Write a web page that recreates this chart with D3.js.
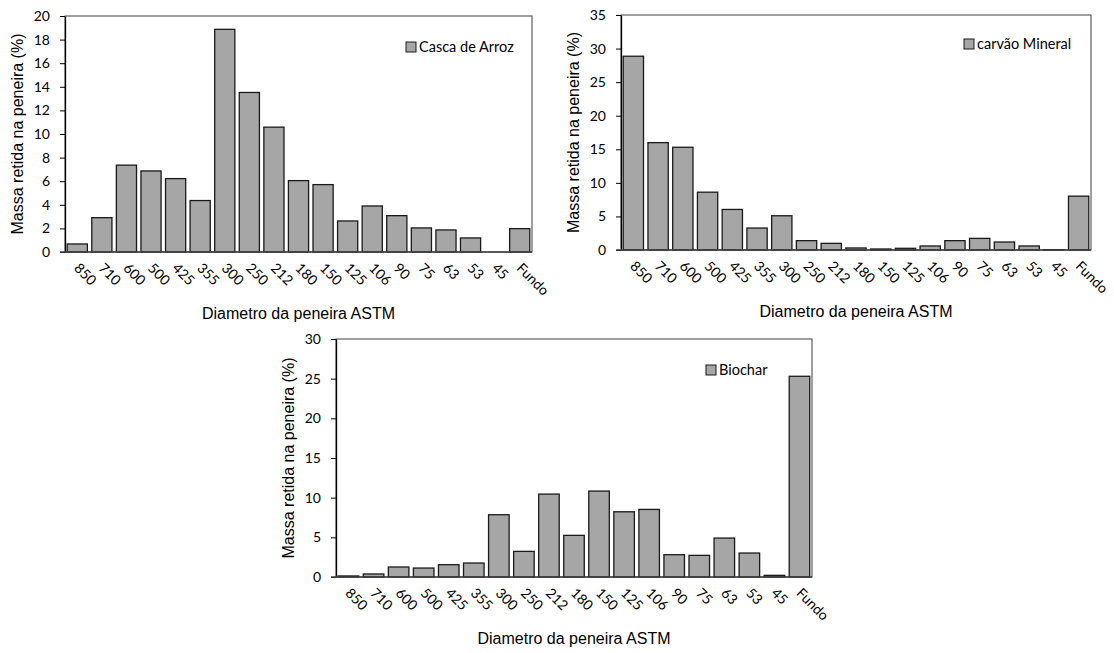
<!DOCTYPE html>
<html>
<head>
<meta charset="utf-8">
<script src="https://cdn.jsdelivr.net/npm/d3@7"></script>
<style>
  body { margin: 0; background: #fff; }
  .tick text { font-family: Lato, "Open Sans", sans-serif; font-size: 14px; fill: #000; }
  .title { font-family: "Liberation Sans", Arial, sans-serif; font-size: 16px; fill: #000; }
  .legend { font-family: Lato, "Open Sans", sans-serif; font-size: 14.5px; fill: #000; }
</style>
</head>
<body>
<svg id="chart" width="1114" height="653"></svg>
<script>
// sieve openings (ASTM), same order on all three charts
var sieves = ['850', '710', '600', '500', '425', '355', '300', '250', '212', '180',
  '150', '125', '106', '90', '75', '63', '53', '45', 'Fundo'];

// % mass kept on each sieve
var cascaArroz = [0.68, 2.91, 7.36, 6.87, 6.22, 4.36, 18.87, 13.52, 10.58, 6.05,
  5.71, 2.63, 3.9, 3.08, 2.04, 1.87, 1.19, 0, 1.98];
var carvaoMineral = [28.86, 15.99, 15.3, 8.61, 6.04, 3.27, 5.1, 1.39, 0.99, 0.3,
  0.15, 0.25, 0.6, 1.39, 1.73, 1.19, 0.6, 0.05, 8.02];
var biochar = [0.13, 0.38, 1.26, 1.13, 1.55, 1.76, 7.85, 3.23, 10.45, 5.25,
  10.83, 8.22, 8.52, 2.81, 2.73, 4.91, 3.02, 0.21, 25.3];

var ticksArroz = [0, 2, 4, 6, 8, 10, 12, 14, 16, 18, 20];
var ticksCarvao = [0, 5, 10, 15, 20, 25, 30, 35];
var ticksBiochar = [0, 5, 10, 15, 20, 25, 30];

var yTitle = 'Massa retida na peneira (%)';
var xTitle = 'Diametro da peneira ASTM';

// where each panel sits on the page
var panels = [
  {values: cascaArroz, ticks: ticksArroz, name: 'Casca de Arroz',
    x0: 65, x1: 532, y0: 16, y1: 252, legX: 406, legY: 47},
  {values: carvaoMineral, ticks: ticksCarvao, name: 'carvão Mineral',
    x0: 621, x1: 1091, y0: 15, y1: 250, legX: 964, legY: 44},
  {values: biochar, ticks: ticksBiochar, name: 'Biochar',
    x0: 336, x1: 812, y0: 339, y1: 577, legX: 706, legY: 370}
];

var svg = d3.select('#chart');

var drawPanel = function(p) {
  var g = svg.append('g');

  var x = d3.scaleBand()
    .domain(sieves)
    .range([p.x0, p.x1])
    .paddingInner(0.18)
    .paddingOuter(0.09);

  var y = d3.scaleLinear()
    .domain([0, p.ticks[p.ticks.length - 1]])
    .range([p.y1, p.y0]);

  // frame (top + right side)
  g.append('rect')
    .attr('x', p.x0)
    .attr('y', p.y0)
    .attr('width', p.x1 - p.x0)
    .attr('height', p.y1 - p.y0)
    .attr('fill', 'none')
    .attr('stroke', '#404040')
    .attr('stroke-width', 1);

  g.selectAll('.bar')
    .data(p.values)
    .enter().append('rect')
    .attr('class', 'bar')
    .attr('x', function(d, i) { return x(sieves[i]); })
    .attr('y', function(d) { return y(d); })
    .attr('width', x.bandwidth())
    .attr('height', function(d) { return y(0) - y(d); })
    .attr('fill', '#a6a6a6')
    .attr('stroke', '#1a1a1a')
    .attr('stroke-width', 1.3);

  var yAxis = g.append('g')
    .attr('transform', 'translate(' + p.x0 + ',0)')
    .call(d3.axisLeft(y).tickValues(p.ticks).tickSize(5).tickPadding(10).tickSizeOuter(0));
  yAxis.select('.domain').attr('stroke', '#000').attr('stroke-width', 1.3);
  yAxis.selectAll('.tick line').attr('stroke', '#000');

  var xAxis = g.append('g')
    .attr('transform', 'translate(0,' + p.y1 + ')')
    .call(d3.axisBottom(x).tickSize(0).tickSizeOuter(0));
  xAxis.select('.domain').attr('stroke', '#404040').attr('stroke-width', 1.5)
    .attr('d', 'M' + (p.x0 - 5) + ',0H' + p.x1);
  xAxis.selectAll('.tick text')
    .attr('text-anchor', 'start')
    .attr('y', 0)
    .attr('dy', 0)
    .attr('transform', 'translate(-4,17) rotate(45)');

  // axis titles
  g.append('text')
    .attr('class', 'title')
    .attr('text-anchor', 'middle')
    .attr('transform', 'translate(' + (p.x0 - 42) + ',' + ((p.y0 + p.y1) / 2) + ') rotate(-90)')
    .text(yTitle);
  g.append('text')
    .attr('class', 'title')
    .attr('text-anchor', 'middle')
    .attr('x', (p.x0 + p.x1) / 2)
    .attr('y', p.y1 + 67)
    .text(xTitle);

  // legend
  g.append('rect')
    .attr('x', p.legX)
    .attr('y', p.legY - 5)
    .attr('width', 10)
    .attr('height', 10)
    .attr('fill', '#a6a6a6')
    .attr('stroke', '#1a1a1a')
    .attr('stroke-width', 1);
  g.append('text')
    .attr('class', 'legend')
    .attr('x', p.legX + 13)
    .attr('y', p.legY)
    .attr('dy', '0.35em')
    .text(p.name);
};

panels.forEach(drawPanel);
</script>
</body>
</html>
